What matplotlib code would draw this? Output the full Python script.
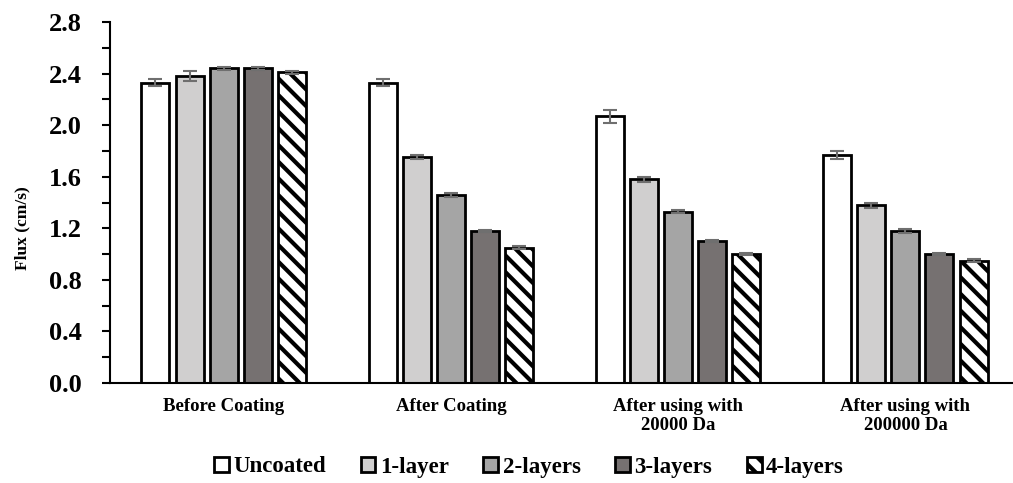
import numpy as np
import matplotlib.pyplot as plt
from matplotlib.patches import Patch

plt.rcParams["font.family"] = "Liberation Serif"
plt.rcParams["font.weight"] = "bold"
plt.rcParams["hatch.linewidth"] = 3.0

categories = ["Before Coating", "After Coating", "After using with\n20000 Da",
              "After using with\n200000 Da"]
series = ["Uncoated", "1-layer", "2-layers", "3-layers", "4-layers"]

uncoated = [2.33, 2.33, 2.07, 1.77]
layer1 = [2.38, 1.75, 1.58, 1.38]
layer2 = [2.44, 1.46, 1.33, 1.18]
layer3 = [2.44, 1.18, 1.10, 1.00]
layer4 = [2.41, 1.05, 1.00, 0.95]

err_uncoated = [0.03, 0.025, 0.05, 0.03]
err_layer1 = [0.04, 0.015, 0.02, 0.02]
err_layer2 = [0.01, 0.015, 0.01, 0.015]
err_layer3 = [0.01, 0.01, 0.01, 0.01]
err_layer4 = [0.01, 0.01, 0.01, 0.01]

values = [uncoated, layer1, layer2, layer3, layer4]
errors = [err_uncoated, err_layer1, err_layer2, err_layer3, err_layer4]
colors = ["#ffffff", "#d0cfcf", "#a5a5a5", "#767171", "#ffffff"]
hatches = [None, None, None, None, "\\\\"]

fig = plt.figure(figsize=(10.13, 4.83), dpi=100)
ax = fig.add_axes([110 / 1013, 100 / 483, 909 / 1013, 361 / 483])

x = np.arange(len(categories))
step = 0.15
width = 0.123
for i, (vals, errs) in enumerate(zip(values, errors)):
    pos = x + (i - 2) * step
    ax.bar(pos, vals, width, color=colors[i], edgecolor="black", linewidth=2.0,
           hatch=hatches[i], zorder=2)
    ax.errorbar(pos, vals, yerr=errs, fmt="none", ecolor="#6f6f6f",
                elinewidth=1.5, capsize=5, capthick=1.5, zorder=3)

ax.set_xlim(-0.5, 3.5)
ax.set_ylim(0, 2.8)
ax.set_yticks(np.arange(0, 2.81, 0.4))
ax.set_yticks(np.arange(0, 2.81, 0.2), minor=True)
ax.set_yticklabels([f"{v:.1f}" for v in np.arange(0, 2.81, 0.4)],
                   fontsize=19, fontweight="bold")
ax.tick_params(axis="y", which="both", direction="out", width=1.5, length=6, pad=14)
ax.set_xticks(x)
ax.set_xticklabels(categories, fontsize=13.5, fontweight="bold", linespacing=1.15)
ax.tick_params(axis="x", length=0, pad=11)
ax.set_ylabel("Flux (cm/s)", fontsize=12.5, fontweight="bold")
ax.yaxis.set_label_coords(-0.088, 0.43)

for side in ["top", "right"]:
    ax.spines[side].set_visible(False)
for side in ["left", "bottom"]:
    ax.spines[side].set_linewidth(1.5)

handles = [Patch(facecolor=colors[i], edgecolor="black", linewidth=2.0,
                 hatch=hatches[i], label=series[i]) for i in range(5)]
fig.legend(handles=handles, loc="center", bbox_to_anchor=(529 / 1013, 1 - 467 / 483),
           ncol=5, frameon=False, fontsize=16.5, handlelength=0.65, handleheight=0.65,
           handletextpad=0.2, columnspacing=1.5)

fig.savefig("out.png", dpi=100)
